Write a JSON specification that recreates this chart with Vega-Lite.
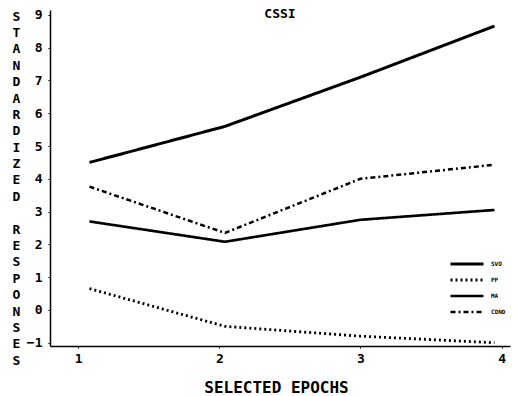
{
  "$schema": "https://vega.github.io/schema/vega-lite/v6.json",
  "width": 460,
  "height": 336,
  "autosize": {"type": "none"},
  "padding": {"left": 50, "top": 10, "right": 3, "bottom": 50},
  "background": "white",
  "config": {
    "view": {"stroke": null},
    "font": "DejaVu Sans Mono"
  },
  "title": {
    "text": "CSSI",
    "anchor": "middle",
    "baseline": "top",
    "offset": 0,
    "dy": 12,
    "font": "DejaVu Sans Mono",
    "fontSize": 13,
    "fontWeight": "bold",
    "color": "black"
  },
  "data": {
    "values": [
      {"epoch": 1.08, "value": 4.5, "series": "SVO"},
      {"epoch": 2.04, "value": 5.6, "series": "SVO"},
      {"epoch": 3.0, "value": 7.1, "series": "SVO"},
      {"epoch": 3.95, "value": 8.66, "series": "SVO"},
      {"epoch": 1.08, "value": 0.65, "series": "PP"},
      {"epoch": 2.04, "value": -0.5, "series": "PP"},
      {"epoch": 3.0, "value": -0.8, "series": "PP"},
      {"epoch": 3.95, "value": -1.0, "series": "PP"},
      {"epoch": 1.08, "value": 2.7, "series": "MA"},
      {"epoch": 2.04, "value": 2.08, "series": "MA"},
      {"epoch": 3.0, "value": 2.75, "series": "MA"},
      {"epoch": 3.95, "value": 3.05, "series": "MA"},
      {"epoch": 1.08, "value": 3.76, "series": "COND"},
      {"epoch": 2.04, "value": 2.35, "series": "COND"},
      {"epoch": 3.0, "value": 4.0, "series": "COND"},
      {"epoch": 3.95, "value": 4.43, "series": "COND"}
    ]
  },
  "mark": {"type": "line", "stroke": "black", "clip": true},
  "encoding": {
    "x": {
      "field": "epoch",
      "type": "quantitative",
      "scale": {"domain": [0.8, 4.06], "nice": false, "zero": false},
      "axis": {
        "values": [1, 2, 3, 4],
        "format": "d",
        "title": "SELECTED EPOCHS",
        "titleFont": "DejaVu Sans Mono",
        "titleFontSize": 16,
        "titleFontWeight": "bold",
        "titleColor": "black",
        "titleBaseline": "middle",
        "titleX": 226,
        "titleY": 41,
        "labelFont": "DejaVu Sans Mono",
        "labelFontSize": 13,
        "labelFontWeight": "bold",
        "labelColor": "black",
        "labelPadding": 4,
        "tickSize": 2,
        "tickColor": "black",
        "domainColor": "black",
        "domainWidth": 1.5,
        "grid": false
      }
    },
    "y": {
      "field": "value",
      "type": "quantitative",
      "scale": {"domain": [-1.1, 9.15], "nice": false, "zero": false},
      "axis": {
        "values": [-1, 0, 1, 2, 3, 4, 5, 6, 7, 8, 9],
        "title": ["S", "T", "A", "N", "D", "A", "R", "D", "I", "Z", "E", "D", "\u200b", "R", "E", "S", "P", "O", "N", "S", "E", "S"],
        "titleAngle": 0,
        "titleAlign": "center",
        "titleBaseline": "top",
        "titleX": -34,
        "titleY": 0,
        "titleLineHeight": 16.4,
        "titleFont": "DejaVu Sans Mono",
        "titleFontSize": 13,
        "titleFontWeight": "bold",
        "titleColor": "black",
        "labelFont": "DejaVu Sans Mono",
        "labelFontSize": 13,
        "labelFontWeight": "bold",
        "labelColor": "black",
        "labelPadding": 6,
        "tickSize": 2,
        "tickColor": "black",
        "domainColor": "black",
        "domainWidth": 1.5,
        "grid": false
      }
    },
    "strokeDash": {
      "field": "series",
      "type": "nominal",
      "scale": {
        "domain": ["SVO", "PP", "MA", "COND"],
        "range": [[1, 0], [2, 3], [1, 0], [5, 3, 2, 3]]
      },
      "legend": {
        "title": null,
        "orient": "none",
        "legendX": 399,
        "legendY": 249,
        "symbolType": "stroke",
        "symbolSize": 1089,
        "symbolStrokeColor": "black",
        "clipHeight": 10,
        "rowPadding": 6,
        "labelFont": "DejaVu Sans Mono",
        "labelFontSize": 6,
        "labelFontWeight": "bold",
        "labelColor": "black",
        "labelOffset": 6
      }
    },
    "strokeWidth": {
      "field": "series",
      "type": "nominal",
      "scale": {
        "domain": ["SVO", "PP", "MA", "COND"],
        "range": [3, 2.5, 2.5, 1.3]
      },
      "legend": {
        "title": null,
        "orient": "none",
        "legendX": 399,
        "legendY": 249,
        "symbolType": "stroke",
        "symbolSize": 1089,
        "symbolStrokeColor": "black",
        "clipHeight": 10,
        "rowPadding": 6,
        "labelFont": "DejaVu Sans Mono",
        "labelFontSize": 6,
        "labelFontWeight": "bold",
        "labelColor": "black",
        "labelOffset": 6
      }
    }
  }
}
